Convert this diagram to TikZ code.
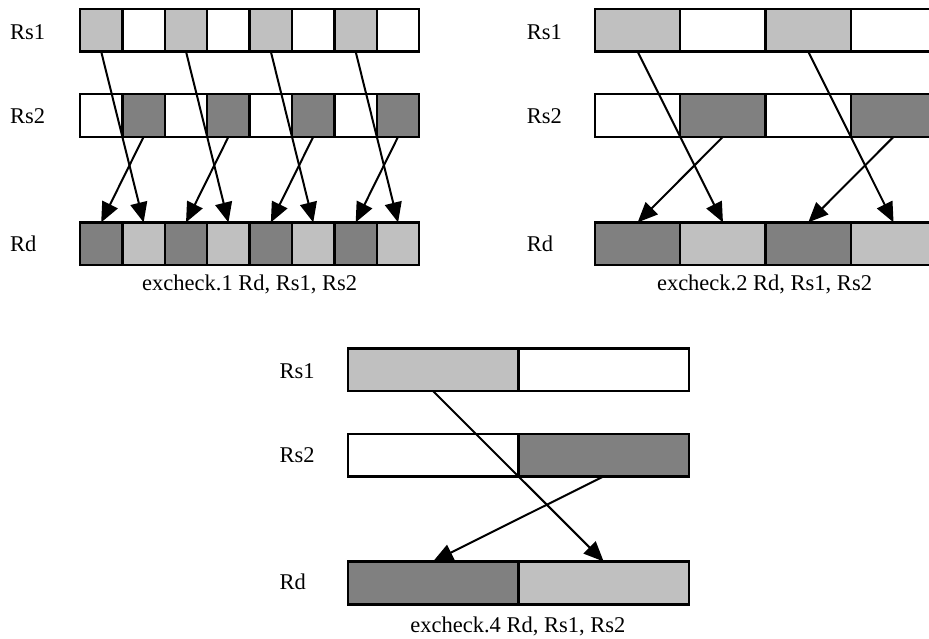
\documentclass[tikz,border=0pt]{standalone}
\usepackage{fontspec}
\setmainfont{Liberation Serif}
\usetikzlibrary{arrows.meta}
\definecolor{lightcell}{HTML}{C0C0C0}
\definecolor{darkcell}{HTML}{808080}
\begin{document}
\begin{tikzpicture}[x=1pt,y=-1pt,
  cell/.style={draw=black, line width=2.3pt, rectangle, inner sep=0pt, outer sep=0pt},
  lbl/.style={anchor=base west, inner sep=0pt, font=\fontsize{22.5}{27}\selectfont},
  captiontext/.style={anchor=base, inner sep=0pt, font=\fontsize{22.5}{27}\selectfont},
  move/.style={-{Triangle[length=20pt,width=17pt]}, line width=2pt}]
\path[use as bounding box] (0,0) rectangle (929,639);
\clip (0,0) rectangle (929,639);

% ---------- excheck.1: eight 42.4-wide lanes ----------
\foreach \i in {0,...,7} {
  \pgfmathsetmacro\cx{80+42.41*(\i+0.5)}
  \ifodd\i
    \node[cell, fill=white,     minimum width=42.41pt, minimum height=42.6pt] (L1-\i) at (\cx,30.35) {};
    \node[cell, fill=darkcell,  minimum width=42.41pt, minimum height=42.6pt] (L2-\i) at (\cx,115.5) {};
    \node[cell, fill=lightcell, minimum width=42.41pt, minimum height=42.6pt] (Ld-\i) at (\cx,243.7) {};
  \else
    \node[cell, fill=lightcell, minimum width=42.41pt, minimum height=42.6pt] (L1-\i) at (\cx,30.35) {};
    \node[cell, fill=white,     minimum width=42.41pt, minimum height=42.6pt] (L2-\i) at (\cx,115.5) {};
    \node[cell, fill=darkcell,  minimum width=42.41pt, minimum height=42.6pt] (Ld-\i) at (\cx,243.7) {};
  \fi
}
\node[lbl] (L1lbl) at (10,39.3) {Rs1};
\node[lbl] (L2lbl) at (10,123.3) {Rs2};
\node[lbl] (Ldlbl) at (10,251.7) {Rd};
\node[captiontext] (Lcap) at (249.7,290.4) {excheck.1 Rd, Rs1, Rs2};
\foreach \k in {0,2,4,6} {
  \pgfmathtruncatemacro\n{\k+1}
  \draw[move] (L1-\k.south) -- (Ld-\n.north);
  \draw[move] (L2-\n.south) -- (Ld-\k.north);
}

% ---------- excheck.2: four 85.3-wide lanes ----------
\foreach \i in {0,...,3} {
  \pgfmathsetmacro\cx{595+85.3*(\i+0.5)}
  \ifodd\i
    \node[cell, fill=white,     minimum width=85.3pt, minimum height=42.6pt] (R1-\i) at (\cx,30.35) {};
    \node[cell, fill=darkcell,  minimum width=85.3pt, minimum height=42.6pt] (R2-\i) at (\cx,115.5) {};
    \node[cell, fill=lightcell, minimum width=85.3pt, minimum height=42.6pt] (Rd-\i) at (\cx,243.7) {};
  \else
    \node[cell, fill=lightcell, minimum width=85.3pt, minimum height=42.6pt] (R1-\i) at (\cx,30.35) {};
    \node[cell, fill=white,     minimum width=85.3pt, minimum height=42.6pt] (R2-\i) at (\cx,115.5) {};
    \node[cell, fill=darkcell,  minimum width=85.3pt, minimum height=42.6pt] (Rd-\i) at (\cx,243.7) {};
  \fi
}
\node[lbl] (R1lbl) at (526.7,39.3) {Rs1};
\node[lbl] (R2lbl) at (526.7,123.3) {Rs2};
\node[lbl] (Rdlbl) at (526.7,251.7) {Rd};
\node[captiontext] (Rcap) at (764.5,290.4) {excheck.2 Rd, Rs1, Rs2};
\foreach \k in {0,2} {
  \pgfmathtruncatemacro\n{\k+1}
  \draw[move] (R1-\k.south) -- (Rd-\n.north);
  \draw[move] (R2-\n.south) -- (Rd-\k.north);
}

% ---------- excheck.4: two 170.6-wide lanes ----------
\foreach \i in {0,1} {
  \pgfmathsetmacro\cx{347.7+170.65*(\i+0.5)}
  \ifodd\i
    \node[cell, fill=white,     minimum width=170.65pt, minimum height=42.7pt] (B1-\i) at (\cx,369.7) {};
    \node[cell, fill=darkcell,  minimum width=170.65pt, minimum height=42.7pt] (B2-\i) at (\cx,455) {};
    \node[cell, fill=lightcell, minimum width=170.65pt, minimum height=43pt]   (Bd-\i) at (\cx,583) {};
  \else
    \node[cell, fill=lightcell, minimum width=170.65pt, minimum height=42.7pt] (B1-\i) at (\cx,369.7) {};
    \node[cell, fill=white,     minimum width=170.65pt, minimum height=42.7pt] (B2-\i) at (\cx,455) {};
    \node[cell, fill=darkcell,  minimum width=170.65pt, minimum height=43pt]   (Bd-\i) at (\cx,583) {};
  \fi
}
\node[lbl] (B1lbl) at (279.3,378.2) {Rs1};
\node[lbl] (B2lbl) at (279.3,462.7) {Rs2};
\node[lbl] (Bdlbl) at (279.3,589.3) {Rd};
\node[captiontext] (Bcap) at (517.8,632) {excheck.4 Rd, Rs1, Rs2};
\draw[move] (B1-0.south) -- (Bd-1.north);
\draw[move] (B2-1.south) -- (Bd-0.north);
\end{tikzpicture}
\end{document}
